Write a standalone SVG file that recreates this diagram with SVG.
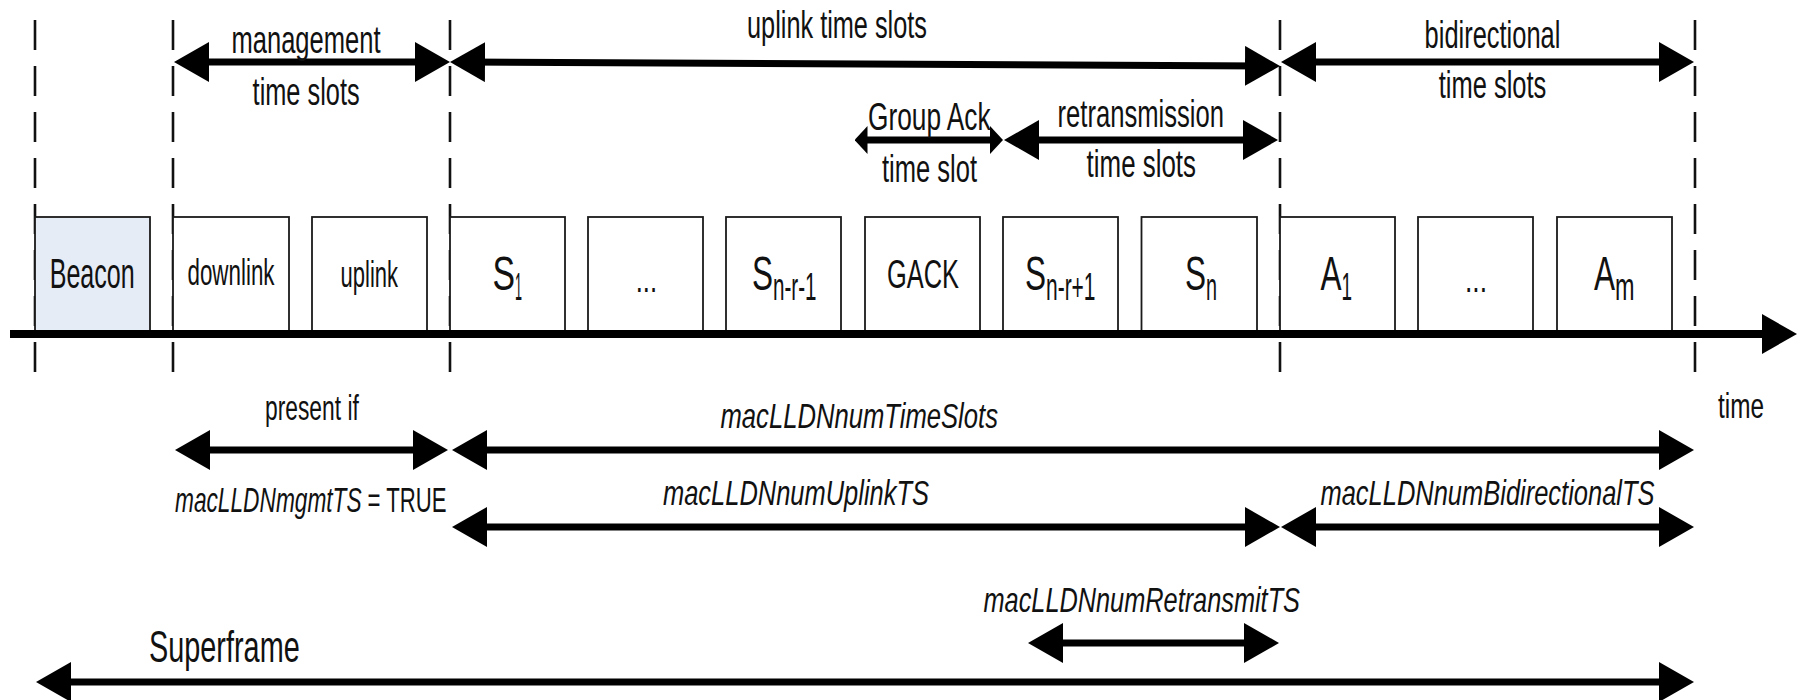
<svg xmlns="http://www.w3.org/2000/svg" width="1803" height="700" viewBox="0 0 1803 700">
  <style>
    .bg { fill: #ffffff; }
    .slot { fill: #ffffff; stroke: #1a1a1a; stroke-width: 1.8; }
    .beacon { fill: #e6ecf6; }
    .guide { stroke: #111111; stroke-width: 2.6; stroke-dasharray: 30 16; fill: none; }
    .span { stroke: #000000; stroke-width: 7; fill: none; }
    .axis { stroke: #000000; stroke-width: 8; fill: none; }
    text { font-family: "Liberation Sans Narrow", "Liberation Sans", Arial, sans-serif; fill: #111111; }
    .lbl { font-size: 38px; }
    .box { font-size: 36px; }
    .big { font-size: 48px; }
    .sub { font-size: 38px; }
    .par { font-size: 35px; font-style: italic; }
  </style>
  <defs>
    <marker id="head" viewBox="0 0 35 40" markerWidth="35" markerHeight="40" refX="20" refY="20" orient="auto-start-reverse" markerUnits="userSpaceOnUse">
      <path d="M0,0 L35,20 L0,40 z" fill="#000000"/>
    </marker>
    <marker id="head-sm" viewBox="0 0 13 28" markerWidth="13" markerHeight="28" refX="8" refY="14" orient="auto-start-reverse" markerUnits="userSpaceOnUse">
      <path d="M0,0 L13,14 L0,28 z" fill="#000000"/>
    </marker>
  </defs>

  <rect class="bg" x="0" y="0" width="1803" height="700"/>

  <!-- slot boundaries -->
  <g id="guides">
    <line class="guide" x1="35" y1="20" x2="35" y2="376"/>
    <line class="guide" x1="173" y1="20" x2="173" y2="376"/>
    <line class="guide" x1="450" y1="20" x2="450" y2="376"/>
    <line class="guide" x1="1280" y1="20" x2="1280" y2="376"/>
    <line class="guide" x1="1695" y1="20" x2="1695" y2="376"/>
  </g>

  <!-- time slots -->
  <g id="beacon">
    <rect class="slot beacon" x="35" y="217" width="115" height="115"/>
    <text class="box" x="49.7" y="288" textLength="85" lengthAdjust="spacingAndGlyphs" style="font-size:42px">Beacon</text>
  </g>
  <g id="mgmt-downlink">
    <rect class="slot" x="173" y="217" width="116" height="115"/>
    <text class="box" x="187.5" y="285" textLength="87" lengthAdjust="spacingAndGlyphs">downlink</text>
  </g>
  <g id="mgmt-uplink">
    <rect class="slot" x="312" y="217" width="115" height="115"/>
    <text class="box" x="340.6" y="287" textLength="57.4" lengthAdjust="spacingAndGlyphs">uplink</text>
  </g>
  <g id="slot-s1">
    <rect class="slot" x="450" y="217" width="115" height="115"/>
    <text class="big" x="492.5" y="290"><tspan textLength="22.5" lengthAdjust="spacingAndGlyphs">S</tspan><tspan class="sub" x="515" y="300" textLength="7" lengthAdjust="spacingAndGlyphs">1</tspan></text>
  </g>
  <g id="slot-dots">
    <rect class="slot" x="588" y="217" width="115" height="115"/>
    <text class="box" x="635.7" y="292" textLength="21.3" lengthAdjust="spacingAndGlyphs">...</text>
  </g>
  <g id="slot-snr-1">
    <rect class="slot" x="726" y="217" width="115" height="115"/>
    <text class="big" x="752" y="290"><tspan textLength="21" lengthAdjust="spacingAndGlyphs">S</tspan><tspan class="sub" x="773" y="300" textLength="43.5" lengthAdjust="spacingAndGlyphs">n-r-1</tspan></text>
  </g>
  <g id="slot-gack">
    <rect class="slot" x="865" y="217" width="115" height="115"/>
    <text class="box" x="887" y="288" textLength="72" lengthAdjust="spacingAndGlyphs" style="font-size:40px">GACK</text>
  </g>
  <g id="slot-snr+1">
    <rect class="slot" x="1003" y="217" width="115" height="115"/>
    <text class="big" x="1025" y="290"><tspan textLength="21" lengthAdjust="spacingAndGlyphs">S</tspan><tspan class="sub" x="1046" y="300" textLength="49.5" lengthAdjust="spacingAndGlyphs">n-r+1</tspan></text>
  </g>
  <g id="slot-sn">
    <rect class="slot" x="1141.5" y="217" width="115.5" height="115"/>
    <text class="big" x="1185" y="290"><tspan textLength="21" lengthAdjust="spacingAndGlyphs">S</tspan><tspan class="sub" x="1206" y="300" textLength="11" lengthAdjust="spacingAndGlyphs">n</tspan></text>
  </g>
  <g id="slot-a1">
    <rect class="slot" x="1280" y="217" width="115" height="115"/>
    <text class="big" x="1320.5" y="290"><tspan textLength="21" lengthAdjust="spacingAndGlyphs">A</tspan><tspan class="sub" x="1341.5" y="300" textLength="10.5" lengthAdjust="spacingAndGlyphs">1</tspan></text>
  </g>
  <g id="slot-adots">
    <rect class="slot" x="1418" y="217" width="115" height="115"/>
    <text class="box" x="1465" y="292" textLength="22" lengthAdjust="spacingAndGlyphs">...</text>
  </g>
  <g id="slot-am">
    <rect class="slot" x="1557" y="217" width="115" height="115"/>
    <text class="big" x="1594" y="290"><tspan textLength="21" lengthAdjust="spacingAndGlyphs">A</tspan><tspan class="sub" x="1615" y="300" textLength="19.5" lengthAdjust="spacingAndGlyphs">m</tspan></text>
  </g>

  <!-- span arrows and time axis -->
  <g id="connectors">
    <line class="axis" x1="10" y1="334" x2="1782" y2="334" marker-end="url(#head)"/>
    <line class="span" x1="189" y1="62" x2="435" y2="62" marker-start="url(#head)" marker-end="url(#head)"/>
    <line class="span" x1="465" y1="62" x2="1265" y2="66" marker-start="url(#head)" marker-end="url(#head)"/>
    <line class="span" x1="1296" y1="62" x2="1679" y2="62" marker-start="url(#head)" marker-end="url(#head)"/>
    <line class="span" x1="859.5" y1="140" x2="998" y2="140" marker-start="url(#head-sm)" marker-end="url(#head-sm)"/>
    <line class="span" x1="1019" y1="140" x2="1263" y2="140" marker-start="url(#head)" marker-end="url(#head)"/>
    <line class="span" x1="190" y1="450" x2="433" y2="450" marker-start="url(#head)" marker-end="url(#head)"/>
    <line class="span" x1="467" y1="450" x2="1679" y2="450" marker-start="url(#head)" marker-end="url(#head)"/>
    <line class="span" x1="467" y1="527" x2="1265" y2="527" marker-start="url(#head)" marker-end="url(#head)"/>
    <line class="span" x1="1296" y1="527" x2="1679" y2="527" marker-start="url(#head)" marker-end="url(#head)"/>
    <line class="span" x1="1043" y1="643" x2="1264" y2="643" marker-start="url(#head)" marker-end="url(#head)"/>
    <line class="span" x1="51" y1="682" x2="1679" y2="682" marker-start="url(#head)" marker-end="url(#head)"/>
  </g>

  <!-- span labels -->
  <g id="labels">
    <text class="lbl" x="231.5" y="53" textLength="149" lengthAdjust="spacingAndGlyphs">management</text>
    <text class="lbl" x="252.6" y="105" textLength="107" lengthAdjust="spacingAndGlyphs">time slots</text>
    <text class="lbl" x="747" y="38" textLength="180" lengthAdjust="spacingAndGlyphs">uplink time slots</text>
    <text class="lbl" x="868" y="130" textLength="122.6" lengthAdjust="spacingAndGlyphs">Group Ack</text>
    <text class="lbl" x="882" y="182" textLength="95" lengthAdjust="spacingAndGlyphs">time slot</text>
    <text class="lbl" x="1057.6" y="127" textLength="166.4" lengthAdjust="spacingAndGlyphs">retransmission</text>
    <text class="lbl" x="1086.6" y="177" textLength="109.4" lengthAdjust="spacingAndGlyphs">time slots</text>
    <text class="lbl" x="1424.6" y="48" textLength="135.8" lengthAdjust="spacingAndGlyphs">bidirectional</text>
    <text class="lbl" x="1438.7" y="98" textLength="107.6" lengthAdjust="spacingAndGlyphs">time slots</text>
    <text class="lbl" x="1718" y="418" textLength="46" lengthAdjust="spacingAndGlyphs" style="font-size:35px">time</text>
    <text class="lbl" x="265" y="420" textLength="93.8" lengthAdjust="spacingAndGlyphs" style="font-size:35px">present if</text>
    <text class="par" x="175" y="511.7"><tspan textLength="186.6" lengthAdjust="spacingAndGlyphs">macLLDNmgmtTS</tspan><tspan x="367.5" y="511.7" textLength="79" lengthAdjust="spacingAndGlyphs" style="font-style:normal">= TRUE</tspan></text>
    <text class="par" x="720.5" y="428" textLength="277.5" lengthAdjust="spacingAndGlyphs">macLLDNnumTimeSlots</text>
    <text class="par" x="663" y="505" textLength="266" lengthAdjust="spacingAndGlyphs">macLLDNnumUplinkTS</text>
    <text class="par" x="1320.5" y="505" textLength="334" lengthAdjust="spacingAndGlyphs">macLLDNnumBidirectionalTS</text>
    <text class="par" x="983.5" y="611.7" textLength="316.5" lengthAdjust="spacingAndGlyphs">macLLDNnumRetransmitTS</text>
    <text class="lbl" x="149" y="662" textLength="150.7" lengthAdjust="spacingAndGlyphs" style="font-size:45px">Superframe</text>
  </g>
</svg>
